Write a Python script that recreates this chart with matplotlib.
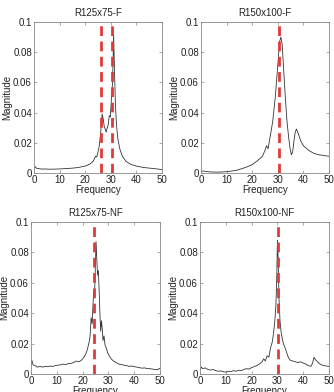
import matplotlib
matplotlib.use('Agg')
import matplotlib.pyplot as plt

plt.rcParams['font.family'] = ['Liberation Sans', 'DejaVu Sans']

# R125x75-F
f_a = [0, 0.5, 1, 2, 3, 4, 6, 8, 10, 12, 14, 16, 18, 20, 21, 22, 22.5, 23, 23.5, 24, 24.5, 25, 25.5,
       26, 26.3, 26.6, 27, 27.4, 27.8, 28.2, 28.6, 29, 29.4, 29.8, 30.2, 30.6, 30.9, 31.1, 31.4, 31.8,
       32.2, 32.8, 33.5, 34.5, 36, 38, 40, 43, 46, 50]
m_a = [0.003, 0.004, 0.003, 0.0028, 0.0025, 0.0026, 0.0024, 0.0025, 0.0026, 0.0028, 0.003, 0.0033,
       0.0038, 0.0045, 0.0052, 0.006, 0.0068, 0.0075, 0.009, 0.011, 0.0105, 0.014, 0.018,
       0.026, 0.032, 0.039, 0.036, 0.031, 0.029, 0.027, 0.03, 0.032, 0.038, 0.037, 0.048, 0.058,
       0.075, 0.092, 0.07, 0.045, 0.032, 0.022, 0.016, 0.011, 0.0075, 0.0055, 0.0045, 0.0035, 0.003, 0.0022]

# R150x100-F
f_b = [0, 1, 2, 4, 6, 8, 10, 12, 14, 16, 18, 20, 22, 23, 24, 25, 25.6, 26.2, 27, 28, 29, 29.6, 30.2,
       30.7, 31.2, 31.7, 32.3, 33, 33.6, 34.2, 34.8, 35.3, 35.8, 36.3, 36.8, 37.3, 38, 39, 40, 42, 44,
       46, 48, 50]
m_b = [0.001, 0.0012, 0.0009, 0.0006, 0.0005, 0.0006, 0.0008, 0.0012, 0.0018, 0.0028, 0.004, 0.0055,
       0.008, 0.0095, 0.011, 0.015, 0.018, 0.016, 0.024, 0.034, 0.05, 0.063, 0.076, 0.087, 0.09,
       0.085, 0.068, 0.048, 0.034, 0.024, 0.016, 0.012, 0.014, 0.021, 0.027, 0.029, 0.026, 0.021,
       0.018, 0.015, 0.013, 0.012, 0.0115, 0.011]

# R125x75-NF
f_c = [0, 0.3, 0.8, 1.5, 2.5, 3.5, 4.5, 5.5, 6.5, 7.5, 8.5, 9.5, 10.5, 11.5, 12.5, 13.5, 14.5, 15.5,
       16.5, 17.5, 18.5, 19.5, 20.5, 21.2, 21.8, 22.4, 22.9, 23.3, 23.7, 24, 24.3, 24.6, 24.9, 25.2,
       25.5, 25.8, 26.1, 26.4, 26.7, 27, 27.3, 27.6, 27.9, 28.3, 28.7, 29.2, 29.7, 30.3, 31, 32, 33,
       34, 35, 36, 37, 38, 39, 40, 41, 42, 43, 44, 45, 46, 47, 48, 49, 50]
m_c = [0.006, 0.009, 0.006, 0.0055, 0.0045, 0.005, 0.0045, 0.005, 0.0048, 0.0052, 0.005, 0.0055,
       0.0058, 0.006, 0.0065, 0.0062, 0.0068, 0.007, 0.0075, 0.0085, 0.008, 0.009, 0.011, 0.013,
       0.016, 0.02, 0.025, 0.037, 0.033, 0.045, 0.055, 0.05, 0.068, 0.087, 0.075, 0.065, 0.068,
       0.055, 0.04, 0.028, 0.035, 0.03, 0.022, 0.025, 0.019, 0.017, 0.014, 0.012, 0.01, 0.0085,
       0.0075, 0.0065, 0.0062, 0.0058, 0.0055, 0.005, 0.0052, 0.0048, 0.0045, 0.0042, 0.0038,
       0.004, 0.0035, 0.0035, 0.0032, 0.003, 0.0028, 0.0038]

# R150x100-NF
f_d = [0, 0.5, 1, 2, 3, 4, 5, 6, 7, 8, 9, 10, 11, 12, 13, 14, 15, 16, 17, 18, 19, 20, 21, 22, 23,
       24, 24.7, 25.3, 26, 26.7, 27.3, 28, 28.5, 29, 29.4, 29.7, 30, 30.3, 30.6, 31, 31.4, 31.8,
       32.3, 33, 33.6, 34.2, 35, 36, 37, 38, 39, 40, 41, 42, 43, 43.6, 44.2, 44.7, 45.3, 46, 47,
       48, 49, 50]
m_d = [0.003, 0.0045, 0.0035, 0.004, 0.003, 0.0025, 0.003, 0.0022, 0.0018, 0.002, 0.0015, 0.0012,
       0.0018, 0.0015, 0.0022, 0.0018, 0.0025, 0.0022, 0.003, 0.0035, 0.0032, 0.0042, 0.0048,
       0.0055, 0.0065, 0.008, 0.01, 0.0085, 0.012, 0.011, 0.017, 0.021, 0.027, 0.035, 0.045, 0.06,
       0.088, 0.075, 0.05, 0.035, 0.028, 0.024, 0.02, 0.017, 0.014, 0.011, 0.009, 0.0085, 0.008,
       0.0075, 0.008, 0.0072, 0.0065, 0.0055, 0.005, 0.007, 0.011, 0.0095, 0.0085, 0.0072, 0.006,
       0.0055, 0.0052, 0.005]

titles = ['R125x75-F', 'R150x100-F', 'R125x75-NF', 'R150x100-NF']
peaks = [[26.3, 30.5], [30.6], [24.6], [30.1]]
series = [(f_a, m_a), (f_b, m_b), (f_c, m_c), (f_d, m_d)]
boxes = [[0.102, 0.559, 0.383, 0.385],
         [0.602, 0.559, 0.383, 0.385],
         [0.093, 0.046, 0.386, 0.388],
         [0.599, 0.046, 0.386, 0.388]]
yticks = [0, 0.02, 0.04, 0.06, 0.08, 0.1]
ylabels = ['0', '0.02', '0.04', '0.06', '0.08', '0.1']

fig = plt.figure(figsize=(3.34, 3.92), dpi=100)
for i in range(4):
    ax = fig.add_axes(boxes[i])
    f, m = series[i]
    ax.plot(f, m, color='#333333', lw=0.6)
    for p in peaks[i]:
        ax.axvline(p, color='#e03a3a', lw=2, ls=(0, (3.5, 2)))
    ax.set_xlim(0, 50)
    ax.set_ylim(0, 0.1)
    ax.set_xticks([0, 10, 20, 30, 40, 50])
    ax.set_yticks(yticks)
    ax.set_yticklabels(ylabels)
    ax.tick_params(direction='in', top=True, right=True, labelsize=7, length=2,
                   width=0.5, color='#888888', pad=1.5, labelcolor='#222222')
    for s in ax.spines.values():
        s.set_color('#888888')
        s.set_linewidth(0.6)
    ax.set_title(titles[i], fontsize=7, pad=4, color='#222222')
    ax.set_xlabel('Frequency', fontsize=7, labelpad=0, color='#222222')
    ax.set_ylabel('Magnitude', fontsize=7, labelpad=0.5, color='#222222')

plt.savefig('out.png', dpi=100)
